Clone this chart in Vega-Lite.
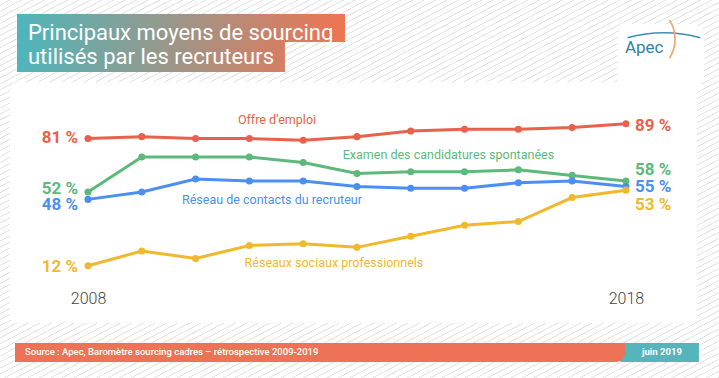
{
"$schema": "https://vega.github.io/schema/vega-lite/v6.json",
"width": 719, "height": 378, "autosize": "none", "padding": 0,
"background": "#ffffff",
"config": {
 "font": "Roboto",
 "legend": {"disable": true},
 "axisY": {"disable": true},
 "view": {"stroke": null, "fill": {"gradient": "linear", "x1": 0, "y1": 0, "x2": 1, "y2": 1, "stops": [
{"offset":0,"color":"#fff"},{"offset":0.006,"color":"#fff"},{"offset":0.007,"color":"#d8d8d8"},
{"offset":0.008,"color":"#fff"},{"offset":0.014,"color":"#fff"},{"offset":0.015,"color":"#d8d8d8"},
{"offset":0.016,"color":"#fff"},{"offset":0.022,"color":"#fff"},{"offset":0.023,"color":"#d8d8d8"},
{"offset":0.024,"color":"#fff"},{"offset":0.03,"color":"#fff"},{"offset":0.031,"color":"#d8d8d8"},
{"offset":0.032,"color":"#fff"},{"offset":0.038,"color":"#fff"},{"offset":0.039,"color":"#d8d8d8"},
{"offset":0.04,"color":"#fff"},{"offset":0.046,"color":"#fff"},{"offset":0.047,"color":"#d8d8d8"},
{"offset":0.048,"color":"#fff"},{"offset":0.054,"color":"#fff"},{"offset":0.055,"color":"#d8d8d8"},
{"offset":0.056,"color":"#fff"},{"offset":0.062,"color":"#fff"},{"offset":0.063,"color":"#d8d8d8"},
{"offset":0.064,"color":"#fff"},{"offset":0.07,"color":"#fff"},{"offset":0.071,"color":"#d8d8d8"},
{"offset":0.072,"color":"#fff"},{"offset":0.078,"color":"#fff"},{"offset":0.079,"color":"#d8d8d8"},
{"offset":0.08,"color":"#fff"},{"offset":0.086,"color":"#fff"},{"offset":0.087,"color":"#d8d8d8"},
{"offset":0.088,"color":"#fff"},{"offset":0.094,"color":"#fff"},{"offset":0.095,"color":"#d8d8d8"},
{"offset":0.096,"color":"#fff"},{"offset":0.102,"color":"#fff"},{"offset":0.103,"color":"#d8d8d8"},
{"offset":0.104,"color":"#fff"},{"offset":0.11,"color":"#fff"},{"offset":0.111,"color":"#d8d8d8"},
{"offset":0.112,"color":"#fff"},{"offset":0.118,"color":"#fff"},{"offset":0.119,"color":"#d8d8d8"},
{"offset":0.12,"color":"#fff"},{"offset":0.126,"color":"#fff"},{"offset":0.127,"color":"#d8d8d8"},
{"offset":0.128,"color":"#fff"},{"offset":0.134,"color":"#fff"},{"offset":0.135,"color":"#d8d8d8"},
{"offset":0.136,"color":"#fff"},{"offset":0.142,"color":"#fff"},{"offset":0.143,"color":"#d8d8d8"},
{"offset":0.144,"color":"#fff"},{"offset":0.15,"color":"#fff"},{"offset":0.151,"color":"#d8d8d8"},
{"offset":0.152,"color":"#fff"},{"offset":0.158,"color":"#fff"},{"offset":0.159,"color":"#d8d8d8"},
{"offset":0.16,"color":"#fff"},{"offset":0.166,"color":"#fff"},{"offset":0.167,"color":"#d8d8d8"},
{"offset":0.168,"color":"#fff"},{"offset":0.174,"color":"#fff"},{"offset":0.175,"color":"#d8d8d8"},
{"offset":0.176,"color":"#fff"},{"offset":0.182,"color":"#fff"},{"offset":0.183,"color":"#d8d8d8"},
{"offset":0.184,"color":"#fff"},{"offset":0.19,"color":"#fff"},{"offset":0.191,"color":"#d8d8d8"},
{"offset":0.192,"color":"#fff"},{"offset":0.198,"color":"#fff"},{"offset":0.199,"color":"#d8d8d8"},
{"offset":0.2,"color":"#fff"},{"offset":0.206,"color":"#fff"},{"offset":0.207,"color":"#d8d8d8"},
{"offset":0.208,"color":"#fff"},{"offset":0.214,"color":"#fff"},{"offset":0.215,"color":"#d8d8d8"},
{"offset":0.216,"color":"#fff"},{"offset":0.222,"color":"#fff"},{"offset":0.223,"color":"#d8d8d8"},
{"offset":0.224,"color":"#fff"},{"offset":0.23,"color":"#fff"},{"offset":0.231,"color":"#d8d8d8"},
{"offset":0.232,"color":"#fff"},{"offset":0.238,"color":"#fff"},{"offset":0.239,"color":"#d8d8d8"},
{"offset":0.24,"color":"#fff"},{"offset":0.246,"color":"#fff"},{"offset":0.247,"color":"#d8d8d8"},
{"offset":0.248,"color":"#fff"},{"offset":0.254,"color":"#fff"},{"offset":0.255,"color":"#d8d8d8"},
{"offset":0.256,"color":"#fff"},{"offset":0.262,"color":"#fff"},{"offset":0.263,"color":"#d8d8d8"},
{"offset":0.264,"color":"#fff"},{"offset":0.27,"color":"#fff"},{"offset":0.271,"color":"#d8d8d8"},
{"offset":0.272,"color":"#fff"},{"offset":0.278,"color":"#fff"},{"offset":0.279,"color":"#d8d8d8"},
{"offset":0.28,"color":"#fff"},{"offset":0.286,"color":"#fff"},{"offset":0.287,"color":"#d8d8d8"},
{"offset":0.288,"color":"#fff"},{"offset":0.294,"color":"#fff"},{"offset":0.295,"color":"#d8d8d8"},
{"offset":0.296,"color":"#fff"},{"offset":0.302,"color":"#fff"},{"offset":0.303,"color":"#d8d8d8"},
{"offset":0.304,"color":"#fff"},{"offset":0.31,"color":"#fff"},{"offset":0.311,"color":"#d8d8d8"},
{"offset":0.312,"color":"#fff"},{"offset":0.318,"color":"#fff"},{"offset":0.319,"color":"#d8d8d8"},
{"offset":0.32,"color":"#fff"},{"offset":0.326,"color":"#fff"},{"offset":0.327,"color":"#d8d8d8"},
{"offset":0.328,"color":"#fff"},{"offset":0.334,"color":"#fff"},{"offset":0.335,"color":"#d8d8d8"},
{"offset":0.336,"color":"#fff"},{"offset":0.342,"color":"#fff"},{"offset":0.343,"color":"#d8d8d8"},
{"offset":0.344,"color":"#fff"},{"offset":0.35,"color":"#fff"},{"offset":0.351,"color":"#d8d8d8"},
{"offset":0.352,"color":"#fff"},{"offset":0.358,"color":"#fff"},{"offset":0.359,"color":"#d8d8d8"},
{"offset":0.36,"color":"#fff"},{"offset":0.366,"color":"#fff"},{"offset":0.367,"color":"#d8d8d8"},
{"offset":0.368,"color":"#fff"},{"offset":0.374,"color":"#fff"},{"offset":0.375,"color":"#d8d8d8"},
{"offset":0.376,"color":"#fff"},{"offset":0.382,"color":"#fff"},{"offset":0.383,"color":"#d8d8d8"},
{"offset":0.384,"color":"#fff"},{"offset":0.39,"color":"#fff"},{"offset":0.391,"color":"#d8d8d8"},
{"offset":0.392,"color":"#fff"},{"offset":0.398,"color":"#fff"},{"offset":0.399,"color":"#d8d8d8"},
{"offset":0.4,"color":"#fff"},{"offset":0.406,"color":"#fff"},{"offset":0.407,"color":"#d8d8d8"},
{"offset":0.408,"color":"#fff"},{"offset":0.414,"color":"#fff"},{"offset":0.415,"color":"#d8d8d8"},
{"offset":0.416,"color":"#fff"},{"offset":0.422,"color":"#fff"},{"offset":0.423,"color":"#d8d8d8"},
{"offset":0.424,"color":"#fff"},{"offset":0.43,"color":"#fff"},{"offset":0.431,"color":"#d8d8d8"},
{"offset":0.432,"color":"#fff"},{"offset":0.438,"color":"#fff"},{"offset":0.439,"color":"#d8d8d8"},
{"offset":0.44,"color":"#fff"},{"offset":0.446,"color":"#fff"},{"offset":0.447,"color":"#d8d8d8"},
{"offset":0.448,"color":"#fff"},{"offset":0.454,"color":"#fff"},{"offset":0.455,"color":"#d8d8d8"},
{"offset":0.456,"color":"#fff"},{"offset":0.462,"color":"#fff"},{"offset":0.463,"color":"#d8d8d8"},
{"offset":0.464,"color":"#fff"},{"offset":0.47,"color":"#fff"},{"offset":0.471,"color":"#d8d8d8"},
{"offset":0.472,"color":"#fff"},{"offset":0.478,"color":"#fff"},{"offset":0.479,"color":"#d8d8d8"},
{"offset":0.48,"color":"#fff"},{"offset":0.486,"color":"#fff"},{"offset":0.487,"color":"#d8d8d8"},
{"offset":0.488,"color":"#fff"},{"offset":0.494,"color":"#fff"},{"offset":0.495,"color":"#d8d8d8"},
{"offset":0.496,"color":"#fff"},{"offset":0.502,"color":"#fff"},{"offset":0.503,"color":"#d8d8d8"},
{"offset":0.504,"color":"#fff"},{"offset":0.51,"color":"#fff"},{"offset":0.511,"color":"#d8d8d8"},
{"offset":0.512,"color":"#fff"},{"offset":0.518,"color":"#fff"},{"offset":0.519,"color":"#d8d8d8"},
{"offset":0.52,"color":"#fff"},{"offset":0.526,"color":"#fff"},{"offset":0.527,"color":"#d8d8d8"},
{"offset":0.528,"color":"#fff"},{"offset":0.534,"color":"#fff"},{"offset":0.535,"color":"#d8d8d8"},
{"offset":0.536,"color":"#fff"},{"offset":0.542,"color":"#fff"},{"offset":0.543,"color":"#d8d8d8"},
{"offset":0.544,"color":"#fff"},{"offset":0.55,"color":"#fff"},{"offset":0.551,"color":"#d8d8d8"},
{"offset":0.552,"color":"#fff"},{"offset":0.558,"color":"#fff"},{"offset":0.559,"color":"#d8d8d8"},
{"offset":0.56,"color":"#fff"},{"offset":0.566,"color":"#fff"},{"offset":0.567,"color":"#d8d8d8"},
{"offset":0.568,"color":"#fff"},{"offset":0.574,"color":"#fff"},{"offset":0.575,"color":"#d8d8d8"},
{"offset":0.576,"color":"#fff"},{"offset":0.582,"color":"#fff"},{"offset":0.583,"color":"#d8d8d8"},
{"offset":0.584,"color":"#fff"},{"offset":0.59,"color":"#fff"},{"offset":0.591,"color":"#d8d8d8"},
{"offset":0.592,"color":"#fff"},{"offset":0.598,"color":"#fff"},{"offset":0.599,"color":"#d8d8d8"},
{"offset":0.6,"color":"#fff"},{"offset":0.606,"color":"#fff"},{"offset":0.607,"color":"#d8d8d8"},
{"offset":0.608,"color":"#fff"},{"offset":0.614,"color":"#fff"},{"offset":0.615,"color":"#d8d8d8"},
{"offset":0.616,"color":"#fff"},{"offset":0.622,"color":"#fff"},{"offset":0.623,"color":"#d8d8d8"},
{"offset":0.624,"color":"#fff"},{"offset":0.63,"color":"#fff"},{"offset":0.631,"color":"#d8d8d8"},
{"offset":0.632,"color":"#fff"},{"offset":0.638,"color":"#fff"},{"offset":0.639,"color":"#d8d8d8"},
{"offset":0.64,"color":"#fff"},{"offset":0.646,"color":"#fff"},{"offset":0.647,"color":"#d8d8d8"},
{"offset":0.648,"color":"#fff"},{"offset":0.654,"color":"#fff"},{"offset":0.655,"color":"#d8d8d8"},
{"offset":0.656,"color":"#fff"},{"offset":0.662,"color":"#fff"},{"offset":0.663,"color":"#d8d8d8"},
{"offset":0.664,"color":"#fff"},{"offset":0.67,"color":"#fff"},{"offset":0.671,"color":"#d8d8d8"},
{"offset":0.672,"color":"#fff"},{"offset":0.678,"color":"#fff"},{"offset":0.679,"color":"#d8d8d8"},
{"offset":0.68,"color":"#fff"},{"offset":0.686,"color":"#fff"},{"offset":0.687,"color":"#d8d8d8"},
{"offset":0.688,"color":"#fff"},{"offset":0.694,"color":"#fff"},{"offset":0.695,"color":"#d8d8d8"},
{"offset":0.696,"color":"#fff"},{"offset":0.702,"color":"#fff"},{"offset":0.703,"color":"#d8d8d8"},
{"offset":0.704,"color":"#fff"},{"offset":0.71,"color":"#fff"},{"offset":0.711,"color":"#d8d8d8"},
{"offset":0.712,"color":"#fff"},{"offset":0.718,"color":"#fff"},{"offset":0.719,"color":"#d8d8d8"},
{"offset":0.72,"color":"#fff"},{"offset":0.726,"color":"#fff"},{"offset":0.727,"color":"#d8d8d8"},
{"offset":0.728,"color":"#fff"},{"offset":0.734,"color":"#fff"},{"offset":0.735,"color":"#d8d8d8"},
{"offset":0.736,"color":"#fff"},{"offset":0.742,"color":"#fff"},{"offset":0.743,"color":"#d8d8d8"},
{"offset":0.744,"color":"#fff"},{"offset":0.75,"color":"#fff"},{"offset":0.751,"color":"#d8d8d8"},
{"offset":0.752,"color":"#fff"},{"offset":0.758,"color":"#fff"},{"offset":0.759,"color":"#d8d8d8"},
{"offset":0.76,"color":"#fff"},{"offset":0.766,"color":"#fff"},{"offset":0.767,"color":"#d8d8d8"},
{"offset":0.768,"color":"#fff"},{"offset":0.774,"color":"#fff"},{"offset":0.775,"color":"#d8d8d8"},
{"offset":0.776,"color":"#fff"},{"offset":0.782,"color":"#fff"},{"offset":0.783,"color":"#d8d8d8"},
{"offset":0.784,"color":"#fff"},{"offset":0.79,"color":"#fff"},{"offset":0.791,"color":"#d8d8d8"},
{"offset":0.792,"color":"#fff"},{"offset":0.798,"color":"#fff"},{"offset":0.799,"color":"#d8d8d8"},
{"offset":0.8,"color":"#fff"},{"offset":0.806,"color":"#fff"},{"offset":0.807,"color":"#d8d8d8"},
{"offset":0.808,"color":"#fff"},{"offset":0.814,"color":"#fff"},{"offset":0.815,"color":"#d8d8d8"},
{"offset":0.816,"color":"#fff"},{"offset":0.822,"color":"#fff"},{"offset":0.823,"color":"#d8d8d8"},
{"offset":0.824,"color":"#fff"},{"offset":0.83,"color":"#fff"},{"offset":0.831,"color":"#d8d8d8"},
{"offset":0.832,"color":"#fff"},{"offset":0.838,"color":"#fff"},{"offset":0.839,"color":"#d8d8d8"},
{"offset":0.84,"color":"#fff"},{"offset":0.846,"color":"#fff"},{"offset":0.847,"color":"#d8d8d8"},
{"offset":0.848,"color":"#fff"},{"offset":0.854,"color":"#fff"},{"offset":0.855,"color":"#d8d8d8"},
{"offset":0.856,"color":"#fff"},{"offset":0.862,"color":"#fff"},{"offset":0.863,"color":"#d8d8d8"},
{"offset":0.864,"color":"#fff"},{"offset":0.87,"color":"#fff"},{"offset":0.871,"color":"#d8d8d8"},
{"offset":0.872,"color":"#fff"},{"offset":0.878,"color":"#fff"},{"offset":0.879,"color":"#d8d8d8"},
{"offset":0.88,"color":"#fff"},{"offset":0.886,"color":"#fff"},{"offset":0.887,"color":"#d8d8d8"},
{"offset":0.888,"color":"#fff"},{"offset":0.894,"color":"#fff"},{"offset":0.895,"color":"#d8d8d8"},
{"offset":0.896,"color":"#fff"},{"offset":0.902,"color":"#fff"},{"offset":0.903,"color":"#d8d8d8"},
{"offset":0.904,"color":"#fff"},{"offset":0.91,"color":"#fff"},{"offset":0.911,"color":"#d8d8d8"},
{"offset":0.912,"color":"#fff"},{"offset":0.918,"color":"#fff"},{"offset":0.919,"color":"#d8d8d8"},
{"offset":0.92,"color":"#fff"},{"offset":0.926,"color":"#fff"},{"offset":0.927,"color":"#d8d8d8"},
{"offset":0.928,"color":"#fff"},{"offset":0.934,"color":"#fff"},{"offset":0.935,"color":"#d8d8d8"},
{"offset":0.936,"color":"#fff"},{"offset":0.942,"color":"#fff"},{"offset":0.943,"color":"#d8d8d8"},
{"offset":0.944,"color":"#fff"},{"offset":0.95,"color":"#fff"},{"offset":0.951,"color":"#d8d8d8"},
{"offset":0.952,"color":"#fff"},{"offset":0.958,"color":"#fff"},{"offset":0.959,"color":"#d8d8d8"},
{"offset":0.96,"color":"#fff"},{"offset":0.966,"color":"#fff"},{"offset":0.967,"color":"#d8d8d8"},
{"offset":0.968,"color":"#fff"},{"offset":0.974,"color":"#fff"},{"offset":0.975,"color":"#d8d8d8"},
{"offset":0.976,"color":"#fff"},{"offset":0.982,"color":"#fff"},{"offset":0.983,"color":"#d8d8d8"},
{"offset":0.984,"color":"#fff"},{"offset":0.99,"color":"#fff"},{"offset":0.991,"color":"#d8d8d8"},
{"offset":0.992,"color":"#fff"},{"offset":0.998,"color":"#fff"},{"offset":0.999,"color":"#d8d8d8"},
{"offset":1,"color":"#fff"}
 ]}}
},
"data": {"values": [
 {"serie":"Offre d’emploi","annee":2008,"pct":81},{"serie":"Offre d’emploi","annee":2009,"pct":82},{"serie":"Offre d’emploi","annee":2010,"pct":81},{"serie":"Offre d’emploi","annee":2011,"pct":81},{"serie":"Offre d’emploi","annee":2012,"pct":80},{"serie":"Offre d’emploi","annee":2013,"pct":82},{"serie":"Offre d’emploi","annee":2014,"pct":85},{"serie":"Offre d’emploi","annee":2015,"pct":86},{"serie":"Offre d’emploi","annee":2016,"pct":86},{"serie":"Offre d’emploi","annee":2017,"pct":87},{"serie":"Offre d’emploi","annee":2018,"pct":89},
 {"serie":"Examen des candidatures spontanées","annee":2008,"pct":52},{"serie":"Examen des candidatures spontanées","annee":2009,"pct":71},{"serie":"Examen des candidatures spontanées","annee":2010,"pct":71},{"serie":"Examen des candidatures spontanées","annee":2011,"pct":71},{"serie":"Examen des candidatures spontanées","annee":2012,"pct":68},{"serie":"Examen des candidatures spontanées","annee":2013,"pct":62},{"serie":"Examen des candidatures spontanées","annee":2014,"pct":63},{"serie":"Examen des candidatures spontanées","annee":2015,"pct":63},{"serie":"Examen des candidatures spontanées","annee":2016,"pct":64},{"serie":"Examen des candidatures spontanées","annee":2017,"pct":61},{"serie":"Examen des candidatures spontanées","annee":2018,"pct":58},
 {"serie":"Réseau de contacts du recruteur","annee":2008,"pct":48},{"serie":"Réseau de contacts du recruteur","annee":2009,"pct":52},{"serie":"Réseau de contacts du recruteur","annee":2010,"pct":59},{"serie":"Réseau de contacts du recruteur","annee":2011,"pct":58},{"serie":"Réseau de contacts du recruteur","annee":2012,"pct":58},{"serie":"Réseau de contacts du recruteur","annee":2013,"pct":55},{"serie":"Réseau de contacts du recruteur","annee":2014,"pct":54},{"serie":"Réseau de contacts du recruteur","annee":2015,"pct":54},{"serie":"Réseau de contacts du recruteur","annee":2016,"pct":57},{"serie":"Réseau de contacts du recruteur","annee":2017,"pct":58},{"serie":"Réseau de contacts du recruteur","annee":2018,"pct":55},
 {"serie":"Réseaux sociaux professionnels","annee":2008,"pct":12},{"serie":"Réseaux sociaux professionnels","annee":2009,"pct":20},{"serie":"Réseaux sociaux professionnels","annee":2010,"pct":16},{"serie":"Réseaux sociaux professionnels","annee":2011,"pct":23},{"serie":"Réseaux sociaux professionnels","annee":2012,"pct":24},{"serie":"Réseaux sociaux professionnels","annee":2013,"pct":22},{"serie":"Réseaux sociaux professionnels","annee":2014,"pct":28},{"serie":"Réseaux sociaux professionnels","annee":2015,"pct":34},{"serie":"Réseaux sociaux professionnels","annee":2016,"pct":36},{"serie":"Réseaux sociaux professionnels","annee":2017,"pct":49},{"serie":"Réseaux sociaux professionnels","annee":2018,"pct":53}
]},
"layer": [
 {"data": {"values": [{}]}, "mark": {"type": "rect", "fill": "#ffffff", "cornerRadius": 6},
  "encoding": {"x": {"datum": 2006.55, "type": "quantitative"}, "x2": {"datum": 2019.319}, "y": {"datum": 111.61, "type": "quantitative"}, "y2": {"datum": -19.01}}},
 {"data": {"values": [{}]}, "mark": {"type": "rect", "fill": "#ffffff", "cornerRadius": 12},
  "encoding": {"x": {"datum": 2017.85, "type": "quantitative"}, "x2": {"datum": 2019.45}, "y": {"datum": 143.0, "type": "quantitative"}, "y2": {"datum": 108.0}}},
 {"data": {"values": [{}]}, "mark": {"type": "rect", "fill": {"gradient": "linear", "x1": 0, "y1": 0, "x2": 1, "y2": 0, "stops": [{"offset": 0, "color": "#4db6bc"}, {"offset": 1, "color": "#ef7452"}]}},
  "encoding": {"x": {"datum": 2006.68, "type": "quantitative"}, "x2": {"datum": 2012.777}, "y": {"datum": 148.47, "type": "quantitative"}, "y2": {"datum": 133.29}}},
 {"data": {"values": [{}]}, "mark": {"type": "rect", "fill": {"gradient": "linear", "x1": 0, "y1": 0, "x2": 1, "y2": 0, "stops": [{"offset": 0, "color": "#4db6bc"}, {"offset": 1, "color": "#d67e62"}]}},
  "encoding": {"x": {"datum": 2006.68, "type": "quantitative"}, "x2": {"datum": 2011.661}, "y": {"datum": 133.5, "type": "quantitative"}, "y2": {"datum": 117.03}}},
 {"data": {"values": [{}]}, "mark": {"type": "text", "text": "Principaux moyens de sourcing", "align": "left", "baseline": "alphabetic", "fontSize": 22, "color": "#ffffff"},
  "encoding": {"x": {"datum": 2006.884, "type": "quantitative"}, "y": {"datum": 134.64, "type": "quantitative"}}},
 {"data": {"values": [{}]}, "mark": {"type": "text", "text": "utilisés par les recruteurs", "align": "left", "baseline": "alphabetic", "fontSize": 22, "color": "#ffffff"},
  "encoding": {"x": {"datum": 2006.884, "type": "quantitative"}, "y": {"datum": 121.37, "type": "quantitative"}}},
 {"data": {"values": [{}]}, "mark": {"type": "arc", "radius": 136, "radius2": 134.5, "theta": -0.272, "theta2": 0.272, "fill": "#3d8fb0"},
  "encoding": {"x": {"datum": 2018.706, "type": "quantitative"}, "y": {"datum": 65.0, "type": "quantitative"}}},
 {"data": {"values": [{}]}, "mark": {"type": "arc", "radius": 36.5, "radius2": 34.8, "theta": 1.005, "theta2": 2.136, "fill": "#f0a66c"},
  "encoding": {"x": {"datum": 2018.25, "type": "quantitative"}, "y": {"datum": 134.92, "type": "quantitative"}}},
 {"data": {"values": [{}]}, "mark": {"type": "text", "text": "Apec", "align": "left", "baseline": "alphabetic", "fontSize": 17, "color": "#2f84a3"},
  "encoding": {"x": {"datum": 2017.981, "type": "quantitative"}, "y": {"datum": 127.33, "type": "quantitative"}}},
 {"data": {"values": [{}]}, "mark": {"type": "rect", "fill": "#55b5bb", "cornerRadiusBottomLeft": 6},
  "encoding": {"x": {"datum": 2017.832, "type": "quantitative"}, "x2": {"datum": 2019.357}, "y": {"datum": -29.85, "type": "quantitative"}, "y2": {"datum": -40.15}}},
 {"data": {"values": [{}]}, "mark": {"type": "rect", "fill": "#ee7255", "cornerRadiusBottomRight": 9},
  "encoding": {"x": {"datum": 2006.643, "type": "quantitative"}, "x2": {"datum": 2017.981}, "y": {"datum": -29.85, "type": "quantitative"}, "y2": {"datum": -40.15}}},
 {"data": {"values": [{}]}, "mark": {"type": "text", "text": "Source : Apec, Baromètre sourcing cadres – rétrospective 2009-2019", "align": "left", "baseline": "alphabetic", "fontSize": 9.5, "fontWeight": 500, "color": "#ffffff"},
  "encoding": {"x": {"datum": 2006.829, "type": "quantitative"}, "y": {"datum": -36.36, "type": "quantitative"}}},
 {"data": {"values": [{}]}, "mark": {"type": "text", "text": "juin 2019", "align": "center", "baseline": "alphabetic", "fontSize": 9.5, "fontWeight": "bold", "color": "#ffffff"},
  "encoding": {"x": {"datum": 2018.669, "type": "quantitative"}, "y": {"datum": -36.36, "type": "quantitative"}}},
 {"mark": {"type": "line", "strokeWidth": 3},
  "encoding": {
   "x": {"field": "annee", "type": "quantitative", "title": null, "scale": {"domain": [2006.364, 2019.73], "nice": false, "zero": false},
         "axis": {"values": [2008, 2018], "format": "d", "orient": "bottom", "offset": -75, "zindex": 2, "domain": false, "ticks": false, "tickSize": 0, "grid": false, "labelPadding": 0, "labelBaseline": "alphabetic", "labelFont": "Roboto", "labelFontSize": 16, "labelFontWeight": 300, "labelColor": "#444444", "title": null}},
   "y": {"field": "pct", "type": "quantitative", "scale": {"domain": [-48.8, 156.05], "nice": false, "zero": false}, "axis": null},
   "color": {"field": "serie", "type": "nominal", "legend": null,
     "scale": {"domain": ["Offre d’emploi", "Examen des candidatures spontanées", "Réseau de contacts du recruteur", "Réseaux sociaux professionnels"], "range": ["#e8624b", "#5cb97b", "#4c8ff2", "#f1b82e"]}}}},
 {"mark": {"type": "circle", "size": 50, "opacity": 1},
  "encoding": {"x": {"field": "annee", "type": "quantitative"}, "y": {"field": "pct", "type": "quantitative"}, "color": {"field": "serie", "type": "nominal", "legend": null}}},
 {"data": {"values": [{}]}, "mark": {"type": "text", "text": "Offre d’emploi", "align": "center", "baseline": "alphabetic", "fontSize": 12.5, "color": "#e8624b"},
  "encoding": {"x": {"datum": 2011.513, "type": "quantitative"}, "y": {"datum": 88.85, "type": "quantitative"}}},
 {"data": {"values": [{}]}, "mark": {"type": "text", "text": "Examen des candidatures spontanées", "align": "center", "baseline": "alphabetic", "fontSize": 12.5, "color": "#5cb97b"},
  "encoding": {"x": {"datum": 2014.70, "type": "quantitative"}, "y": {"datum": 69.88, "type": "quantitative"}}},
 {"data": {"values": [{}]}, "mark": {"type": "text", "text": "Réseau de contacts du recruteur", "align": "center", "baseline": "alphabetic", "fontSize": 12.5, "color": "#4c8ff2"},
  "encoding": {"x": {"datum": 2011.42, "type": "quantitative"}, "y": {"datum": 45.49, "type": "quantitative"}}},
 {"data": {"values": [{}]}, "mark": {"type": "text", "text": "Réseaux sociaux professionnels", "align": "center", "baseline": "alphabetic", "fontSize": 12.5, "color": "#f1b82e"},
  "encoding": {"x": {"datum": 2012.572, "type": "quantitative"}, "y": {"datum": 11.34, "type": "quantitative"}}},
 {"transform": [{"filter": "datum.annee == 2008 && datum.serie == 'Offre d’emploi'"}, {"calculate": "datum.pct + ' %'", "as": "lab"}],
  "mark": {"type": "text", "align": "right", "baseline": "alphabetic", "dx": -10, "dy": 4.5, "fontSize": 17, "fontWeight": "bold"},
  "encoding": {"x": {"field": "annee", "type": "quantitative"}, "y": {"field": "pct", "type": "quantitative"}, "text": {"field": "lab"}, "color": {"field": "serie", "type": "nominal", "legend": null}}},
 {"transform": [{"filter": "datum.annee == 2008 && datum.serie == 'Examen des candidatures spontanées'"}, {"calculate": "datum.pct + ' %'", "as": "lab"}],
  "mark": {"type": "text", "align": "right", "baseline": "alphabetic", "dx": -10, "dy": 2, "fontSize": 17, "fontWeight": "bold"},
  "encoding": {"x": {"field": "annee", "type": "quantitative"}, "y": {"field": "pct", "type": "quantitative"}, "text": {"field": "lab"}, "color": {"field": "serie", "type": "nominal", "legend": null}}},
 {"transform": [{"filter": "datum.annee == 2008 && datum.serie == 'Réseau de contacts du recruteur'"}, {"calculate": "datum.pct + ' %'", "as": "lab"}],
  "mark": {"type": "text", "align": "right", "baseline": "alphabetic", "dx": -10, "dy": 10.6, "fontSize": 17, "fontWeight": "bold"},
  "encoding": {"x": {"field": "annee", "type": "quantitative"}, "y": {"field": "pct", "type": "quantitative"}, "text": {"field": "lab"}, "color": {"field": "serie", "type": "nominal", "legend": null}}},
 {"transform": [{"filter": "datum.annee == 2008 && datum.serie == 'Réseaux sociaux professionnels'"}, {"calculate": "datum.pct + ' %'", "as": "lab"}],
  "mark": {"type": "text", "align": "right", "baseline": "alphabetic", "dx": -10, "dy": 6.2, "fontSize": 17, "fontWeight": "bold"},
  "encoding": {"x": {"field": "annee", "type": "quantitative"}, "y": {"field": "pct", "type": "quantitative"}, "text": {"field": "lab"}, "color": {"field": "serie", "type": "nominal", "legend": null}}},
 {"transform": [{"filter": "datum.annee == 2018 && datum.serie == 'Offre d’emploi'"}, {"calculate": "datum.pct + ' %'", "as": "lab"}],
  "mark": {"type": "text", "align": "left", "baseline": "alphabetic", "dx": 9, "dy": 7.3, "fontSize": 17, "fontWeight": "bold"},
  "encoding": {"x": {"field": "annee", "type": "quantitative"}, "y": {"field": "pct", "type": "quantitative"}, "text": {"field": "lab"}, "color": {"field": "serie", "type": "nominal", "legend": null}}},
 {"transform": [{"filter": "datum.annee == 2018 && datum.serie == 'Examen des candidatures spontanées'"}, {"calculate": "datum.pct + ' %'", "as": "lab"}],
  "mark": {"type": "text", "align": "left", "baseline": "alphabetic", "dx": 9, "dy": -5.9, "fontSize": 17, "fontWeight": "bold"},
  "encoding": {"x": {"field": "annee", "type": "quantitative"}, "y": {"field": "pct", "type": "quantitative"}, "text": {"field": "lab"}, "color": {"field": "serie", "type": "nominal", "legend": null}}},
 {"transform": [{"filter": "datum.annee == 2018 && datum.serie == 'Réseau de contacts du recruteur'"}, {"calculate": "datum.pct + ' %'", "as": "lab"}],
  "mark": {"type": "text", "align": "left", "baseline": "alphabetic", "dx": 9, "dy": 5.6, "fontSize": 17, "fontWeight": "bold"},
  "encoding": {"x": {"field": "annee", "type": "quantitative"}, "y": {"field": "pct", "type": "quantitative"}, "text": {"field": "lab"}, "color": {"field": "serie", "type": "nominal", "legend": null}}},
 {"transform": [{"filter": "datum.annee == 2018 && datum.serie == 'Réseaux sociaux professionnels'"}, {"calculate": "datum.pct + ' %'", "as": "lab"}],
  "mark": {"type": "text", "align": "left", "baseline": "alphabetic", "dx": 9, "dy": 19.9, "fontSize": 17, "fontWeight": "bold"},
  "encoding": {"x": {"field": "annee", "type": "quantitative"}, "y": {"field": "pct", "type": "quantitative"}, "text": {"field": "lab"}, "color": {"field": "serie", "type": "nominal", "legend": null}}}
]
}
